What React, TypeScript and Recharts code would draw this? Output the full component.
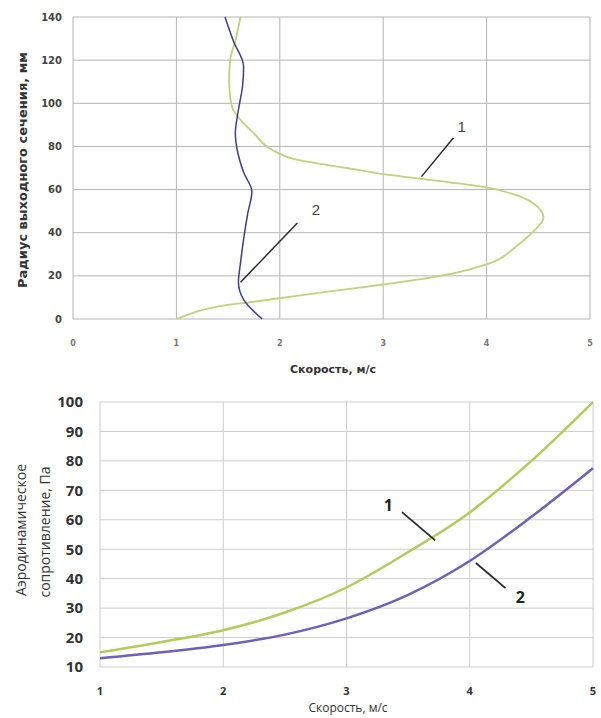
import {
  LineChart,
  Line,
  XAxis,
  YAxis,
  CartesianGrid,
  ReferenceLine,
  ReferenceDot,
} from "recharts";

// top chart: velocity profile over the outlet radius
const profileRadius1 = [0, 3, 6, 8, 11, 13.5, 16, 19.5, 26, 33, 40, 47, 54, 57.5, 61, 65, 67, 70, 74, 78, 86, 97, 103, 111, 120, 129, 140];
const profileSpeed1 = [1.0, 1.17, 1.42, 1.75, 2.2, 2.6, 3.0, 3.5, 4.04, 4.27, 4.44, 4.55, 4.44, 4.28, 4.0, 3.37, 3.02, 2.65, 2.15, 1.94, 1.75, 1.55, 1.52, 1.51, 1.52, 1.57, 1.62];
const profileRadius2 = [0, 9, 17, 26, 37, 49, 59, 68, 78, 86, 97, 108, 117, 129, 140];
const profileSpeed2 = [1.83, 1.65, 1.6, 1.62, 1.65, 1.69, 1.73, 1.65, 1.59, 1.57, 1.6, 1.64, 1.65, 1.55, 1.47];
const radiusTicks = [0, 20, 40, 60, 80, 100, 120, 140];
const speedTicksTop = [0, 1, 2, 3, 4, 5];

// bottom chart: aerodynamic resistance vs speed
const speeds = [1, 1.5, 2, 2.5, 3, 3.5, 4, 4.5, 5];
const resistance1 = [15, 18.5, 22.5, 28.5, 37, 49, 62.5, 80, 100];
const resistance2 = [13, 15, 17.5, 21, 26.5, 34.5, 46, 61, 77.5];
const resistanceTicks = [10, 20, 30, 40, 50, 60, 70, 80, 90, 100];
const speedTicksBottom = [1, 2, 3, 4, 5];

const profile1 = profileRadius1.map((r, i) => ({ r, v: profileSpeed1[i] }));
const profile2 = profileRadius2.map((r, i) => ({ r, v: profileSpeed2[i] }));
const resistanceData = speeds.map((v, i) => ({
  v,
  p1: resistance1[i],
  p2: resistance2[i],
}));

const TOP_FONT = "'DejaVu Sans', sans-serif";
const BOTTOM_FONT = "'Open Sans', sans-serif";

function VTitle({ text, cx, cy, style }: { text: string; cx: number; cy: number; style: React.CSSProperties }) {
  return (
    <div
      style={{
        position: "absolute",
        left: cx,
        top: cy,
        transform: "translate(-50%, -50%) rotate(-90deg)",
        whiteSpace: "nowrap",
        textAlign: "center",
        ...style,
      }}
    >
      {text}
    </div>
  );
}

function HTitle({ text, cx, cy, style }: { text: string; cx: number; cy: number; style: React.CSSProperties }) {
  return (
    <div
      style={{
        position: "absolute",
        left: cx,
        top: cy,
        transform: "translate(-50%, -50%)",
        whiteSpace: "nowrap",
        ...style,
      }}
    >
      {text}
    </div>
  );
}

export default function App() {
  return (
    <div
      style={{
        position: "absolute",
        left: 0,
        top: 0,
        width: 601,
        height: 718,
        background: "#fff",
      }}
    >
      <div style={{ position: "absolute", left: 0, top: 0 }}>
        <LineChart
          width={601}
          height={380}
          layout="vertical"
          margin={{ top: 17, right: 11, left: 28, bottom: 35 }}
        >
          <CartesianGrid stroke="#b4b4b4" strokeWidth={1} />
          <XAxis
            type="number"
            domain={[0, 5]}
            ticks={speedTicksTop}
            axisLine={false}
            tickLine={false}
            tickSize={0}
            tickMargin={21}
            height={26}
            tick={{ fill: "#777", fontSize: 8, fontFamily: TOP_FONT, fontWeight: "bold" }}
          />
          <YAxis
            type="number"
            dataKey="r"
            domain={[0, 140]}
            ticks={radiusTicks}
            reversed
            axisLine={false}
            tickLine={false}
            tickSize={0}
            tickMargin={11}
            width={45}
            tick={{ fill: "#444", fontSize: 10, fontFamily: TOP_FONT, fontWeight: "bold" }}
          />
          <Line
            data={profile1}
            dataKey="v"
            type="monotone"
            stroke="#c2d17e"
            strokeWidth={1.8}
            dot={false}
            isAnimationActive={false}
          />
          <Line
            data={profile2}
            dataKey="v"
            type="monotone"
            stroke="#3d3d8f"
            strokeWidth={1.5}
            dot={false}
            isAnimationActive={false}
          />
          <ReferenceLine
            segment={[{ x: 3.68, y: 84 }, { x: 3.37, y: 66 }]}
            stroke="#2a2a2a"
            strokeWidth={1.5}
          />
          <ReferenceLine
            segment={[{ x: 2.17, y: 44.5 }, { x: 1.62, y: 17 }]}
            stroke="#2a2a2a"
            strokeWidth={1.5}
          />
          <ReferenceDot
            x={3.76}
            y={89}
            r={0}
            fill="none"
            stroke="none"
            label={{ value: "1", position: "center", fill: "#444", fontSize: 15, fontFamily: "'Liberation Sans', sans-serif" }}
          />
          <ReferenceDot
            x={2.35}
            y={50.5}
            r={0}
            fill="none"
            stroke="none"
            label={{ value: "2", position: "center", fill: "#444", fontSize: 15, fontFamily: "'Liberation Sans', sans-serif" }}
          />
        </LineChart>
      </div>

      <div style={{ position: "absolute", left: 0, top: 380 }}>
        <LineChart
          width={601}
          height={338}
          data={resistanceData}
          margin={{ top: 22, right: 8, left: 48, bottom: 26 }}
        >
          <CartesianGrid stroke="#cdcdcd" strokeWidth={1} />
          <XAxis
            type="number"
            dataKey="v"
            domain={[1, 5]}
            ticks={speedTicksBottom}
            axisLine={false}
            tickLine={false}
            tickSize={0}
            tickMargin={20}
            height={25}
            tick={{ fill: "#333", fontSize: 11, fontFamily: BOTTOM_FONT, fontWeight: "bold" }}
          />
          <YAxis
            type="number"
            domain={[10, 100]}
            ticks={resistanceTicks}
            axisLine={false}
            tickLine={false}
            tickSize={0}
            tickMargin={17}
            width={52}
            tick={{ fill: "#333", fontSize: 15, fontFamily: BOTTOM_FONT, fontWeight: "bold" }}
          />
          <Line
            dataKey="p1"
            type="monotone"
            stroke="#b2cb5c"
            strokeWidth={2.5}
            dot={false}
            isAnimationActive={false}
          />
          <Line
            dataKey="p2"
            type="monotone"
            stroke="#6f5fb8"
            strokeWidth={2.5}
            dot={false}
            isAnimationActive={false}
          />
          <ReferenceLine
            segment={[{ x: 3.45, y: 62.6 }, { x: 3.72, y: 53 }]}
            stroke="#2a2a2a"
            strokeWidth={1.8}
          />
          <ReferenceLine
            segment={[{ x: 4.05, y: 45.3 }, { x: 4.29, y: 36.8 }]}
            stroke="#2a2a2a"
            strokeWidth={1.8}
          />
          <ReferenceDot
            x={3.34}
            y={65}
            r={0}
            fill="none"
            stroke="none"
            label={{ value: "1", position: "center", fill: "#222", fontSize: 16, fontWeight: "bold", fontFamily: BOTTOM_FONT }}
          />
          <ReferenceDot
            x={4.41}
            y={33.8}
            r={0}
            fill="none"
            stroke="none"
            label={{ value: "2", position: "center", fill: "#222", fontSize: 16, fontWeight: "bold", fontFamily: BOTTOM_FONT }}
          />
        </LineChart>
      </div>

      <VTitle
        text="Радиус выходного сечения, мм"
        cx={22}
        cy={170}
        style={{ fontFamily: TOP_FONT, fontSize: 13, fontWeight: "bold", color: "#333" }}
      />
      <HTitle
        text="Скорость, м/с"
        cx={333}
        cy={369}
        style={{ fontFamily: TOP_FONT, fontSize: 11, fontWeight: "bold", color: "#333" }}
      />
      <VTitle
        text="Аэродинамическое"
        cx={20}
        cy={530}
        style={{ fontFamily: BOTTOM_FONT, fontSize: 14, color: "#333" }}
      />
      <VTitle
        text="сопротивление, Па"
        cx={44}
        cy={532}
        style={{ fontFamily: BOTTOM_FONT, fontSize: 14, color: "#333" }}
      />
      <HTitle
        text="Скорость, м/с"
        cx={348}
        cy={707}
        style={{ fontFamily: BOTTOM_FONT, fontSize: 12, color: "#333" }}
      />
    </div>
  );
}
